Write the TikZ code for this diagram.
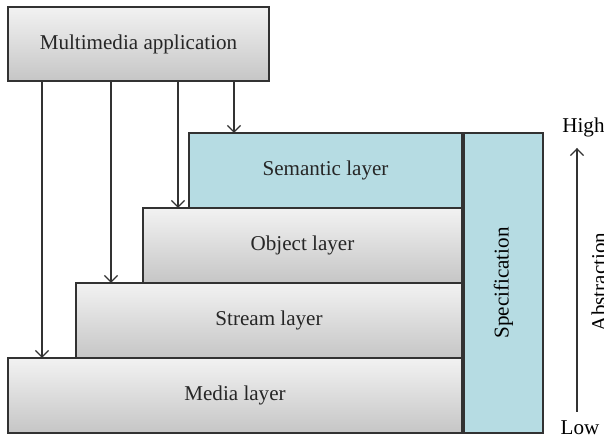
\documentclass[tikz,border=0pt]{standalone}
\usepackage{fontspec}
\setmainfont{Liberation Serif}
\definecolor{layerblue}{RGB}{182,220,227}
\definecolor{edgegray}{RGB}{50,50,50}
\usetikzlibrary{shapes,arrows.meta,positioning,calc}

\begin{document}
\begin{tikzpicture}[
    font=\fontsize{12}{14}\selectfont,
    box/.style={draw=edgegray, line width=0.7pt, inner sep=0pt, outer sep=0pt, text=black!85},
    graybox/.style={box, top color=gray!10, bottom color=gray!45},
    bluebox/.style={box, fill=layerblue},
    link/.style={draw=edgegray, line width=0.7pt, -{Straight Barb[length=3.8pt,width=7.5pt]}}
]
    \useasboundingbox (0,0) rectangle (12.08,8.76);

    % Application on top
    \node[graybox, minimum width=5.22cm, minimum height=1.48cm] (app) at (2.77,7.88) {Multimedia application};

    % Layer stack
    \node[graybox, minimum width=9.08cm, minimum height=1.5cm, anchor=south east] (media) at (9.24,0.10) {Media layer};
    \node[graybox, minimum width=7.72cm, minimum height=1.5cm, anchor=south east] (stream) at (media.north east) {Stream layer};
    \node[graybox, minimum width=6.38cm, minimum height=1.5cm, anchor=south east] (object) at (stream.north east) {Object layer};
    \node[bluebox, minimum width=5.46cm, minimum height=1.5cm, anchor=south east] (semantic) at (object.north east) {Semantic layer};

    % Specification column
    \node[bluebox, minimum width=1.58cm, minimum height=6.0cm, anchor=south west] (spec) at (9.28,0.10) {};
    \node[rotate=90] (speclabel) at (spec.center) {Specification};

    % Access from the application to each layer
    \path (app.south west) ++(0.68,0) coordinate (a1);
    \path (app.south west) ++(2.06,0) coordinate (a2);
    \path (app.south west) ++(3.40,0) coordinate (a3);
    \path (app.south west) ++(4.52,0) coordinate (a4);
    \draw[link] (a1) -- (a1 |- media.north);
    \draw[link] (a2) -- (a2 |- stream.north);
    \draw[link] (a3) -- (a3 |- object.north);
    \draw[link] (a4) -- (a4 |- semantic.north);

    % Abstraction scale
    \node (high) at (11.67,6.22) {High};
    \node (low) at (11.60,0.20) {Low};
    \coordinate (abot) at (11.54,0.52);
    \coordinate (atop) at (11.54,5.80);
    \draw[link] (abot) -- (atop);
    \node[rotate=90] (abstr) at (11.98,3.12) {Abstraction};
\end{tikzpicture}
\end{document}
